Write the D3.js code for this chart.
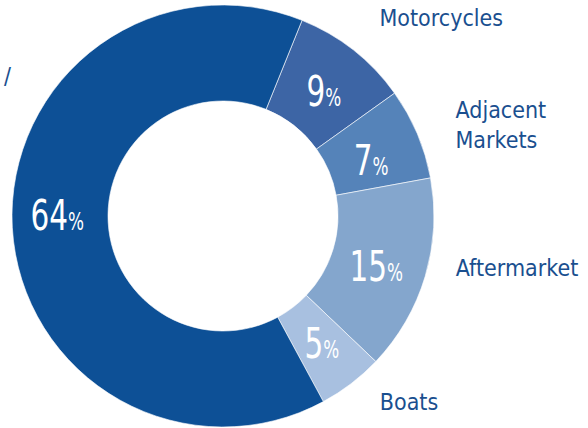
<!DOCTYPE html>
<html>
<head>
  <meta charset="utf-8">
  <script src="https://cdn.jsdelivr.net/npm/d3@7"></script>
  <style>
    body { margin: 0; background: #fff; }
    text { font-family: "Liberation Sans Narrow", "DejaVu Sans Condensed", "Roboto", sans-serif; }
  </style>
</head>
<body>
  <div class="chart"></div>
  <script>
    // segment data, clockwise from the top
    var categories = ["Motorcycles", "Adjacent Markets", "Aftermarket", "Boats", ""];
    var shares = [9, 7, 15, 5, 64];
    var colors = ["#3d65a5", "#5583b9", "#84a6cd", "#a8c0e0", "#0d5096"];

    var width = 588, height = 428;
    var cx = 223, cy = 216;
    var outerR = 211, innerR = 115;
    var startDeg = 22;

    var svg = d3.select(".chart").append("svg")
      .attr("width", width)
      .attr("height", height);

    var g = svg.append("g").attr("transform", "translate(" + cx + "," + cy + ")");

    var pie = d3.pie()
      .sort(null)
      .value(function (d) { return d; })
      .startAngle(startDeg * Math.PI / 180)
      .endAngle((startDeg + 360) * Math.PI / 180);

    var arc = d3.arc().innerRadius(innerR).outerRadius(outerR);
    var arcs = pie(shares);

    g.selectAll("path")
      .data(arcs)
      .enter().append("path")
      .attr("d", arc)
      .style("fill", function (d, i) { return colors[i]; })
      .style("stroke", "#fff")
      .style("stroke-width", 0.6);

    // percentage labels near the centroid, set condensed
    var pctNudge = [[0, 18], [-2, 23], [-3, 18], [0, 13], [-3, 5]];
    var pct = g.selectAll(".pct")
      .data(arcs)
      .enter().append("text")
      .attr("class", "pct")
      .attr("transform", function (d, i) {
        var c = arc.centroid(d);
        return "translate(" + (c[0] + pctNudge[i][0]) + "," + (c[1] + pctNudge[i][1]) + ") scale(0.78,1)";
      })
      .attr("text-anchor", "middle")
      .style("fill", "#fff");
    pct.append("tspan").text(function (d) { return d.value; }).style("font-size", "42px");
    pct.append("tspan").text("%").style("font-size", "24px");

    // category labels outside the ring
    var labelR = 245;
    var nudge = [[5, -4], [7, 6], [-2, -17], [8, -8], [0, 0]];
    categories.forEach(function (name, i) {
      if (!name) return;
      var a = (arcs[i].startAngle + arcs[i].endAngle) / 2;
      var x = cx + labelR * Math.sin(a) + nudge[i][0];
      var y = cy - labelR * Math.cos(a) + nudge[i][1];
      var words = name.split(" ");
      var t = svg.append("text")
        .attr("x", x)
        .attr("y", y - (words.length - 1) * 15 + 7)
        .style("font-size", "23px")
        .style("fill", "#1a4f8f");
      words.forEach(function (w, j) {
        t.append("tspan").attr("x", x).attr("dy", j ? 30 : 0).text(w);
      });
    });

    // stray mark at the left edge
    svg.append("text")
      .attr("x", 4)
      .attr("y", 84)
      .style("font-size", "23px")
      .style("fill", "#1a4f8f")
      .text("/");
  </script>
</body>
</html>
